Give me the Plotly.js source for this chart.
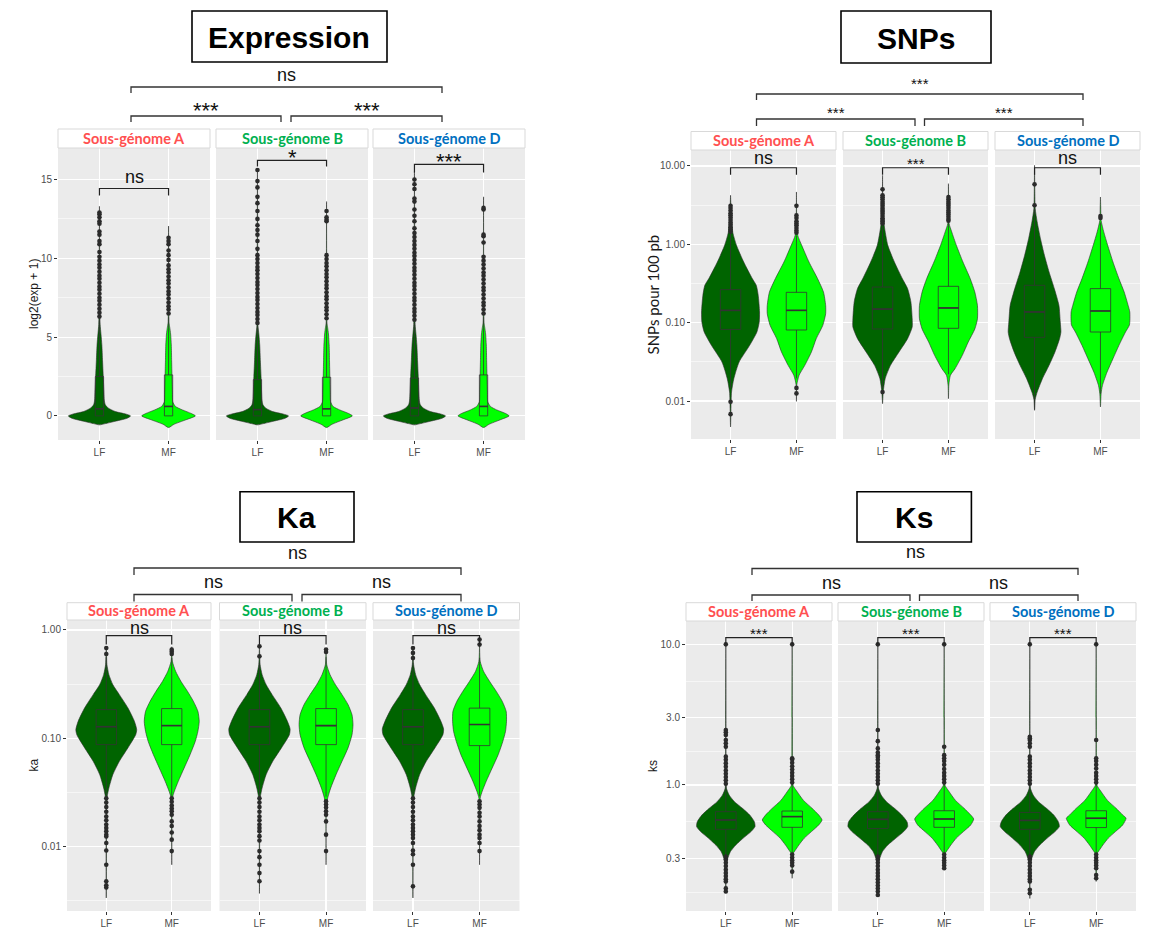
<!DOCTYPE html>
<html><head><meta charset="utf-8">
<script src="https://cdn.plot.ly/plotly-3.0.1.min.js"></script>
<style>html,body{margin:0;padding:0;background:#fff;}</style>
</head><body>
<div id="chart" style="width:1155px;height:939px"></div>
<script>
// ---------------- categories / labels ----------------
const groups = ['LF', 'MF'];
const subgenomes = ['Sous-génome A', 'Sous-génome B', 'Sous-génome D'];
const panelTitles = ['Expression', 'SNPs', 'Ka', 'Ks'];
const yTitles = ['log2(exp + 1)', 'SNPs pour 100 pb', 'ka', 'ks'];

// tick values / labels
const ex_tickvals = [0, 5, 10, 15];       const ex_ticktext = ['0', '5', '10', '15'];
const sn_tickvals = [0.01, 0.1, 1, 10];   const sn_ticktext = ['0.01', '0.10', '1.00', '10.00'];
const ka_tickvals = [0.01, 0.1, 1];       const ka_ticktext = ['0.01', '0.10', '1.00'];
const ks_tickvals = [0.3, 1, 3, 10];      const ks_ticktext = ['0.3', '1.0', '3.0', '10.0'];
const ex_minor = [2.5, 7.5, 12.5];
const sn_minor = [0.0316, 0.316, 3.16];
const ka_minor = [0.00316, 0.0316, 0.316];
const ks_minor = [0.173, 0.548, 1.73, 5.48];

// significance labels: within facet (LF vs MF) for A, B, D ; between: [A-B, B-D, A-D]
const ex_sig_within = ['ns', '*', '***'];   const ex_sig_between = ['***', '***', 'ns'];
const sn_sig_within = ['ns', '***', 'ns'];  const sn_sig_between = ['***', '***', '***'];
const ka_sig_within = ['ns', 'ns', 'ns'];   const ka_sig_between = ['ns', 'ns', 'ns'];
const ks_sig_within = ['***', '***', '***'];const ks_sig_between = ['ns', 'ns', 'ns'];

// ---------------- Expression: violin profile (value, half-width), box [q1, median, q3, lower, upper], outliers -------------
const exA_LF_y = [-0.57,-0.49,-0.36,-0.15,0,0.12,0.275,0.49,0.7,1.0,1.5,2.5,3.5,4.5,5.2,5.8,7,10,13.3];
const exA_LF_w = [0,0.085,0.21,0.40,0.45,0.38,0.23,0.13,0.085,0.07,0.065,0.055,0.045,0.035,0.022,0.01,0.004,0.003,0];
const exA_LF_box = [0, 0.45, 2.5, 0, 6.1];
const exA_LF_out = [6.3,6.55,6.8,7.05,7.3,7.5,7.75,8.0,8.2,8.45,8.7,8.9,9.15,9.4,9.6,9.85,10.1,10.4,10.9,11.1,11.5,11.7,12.2,12.35,12.6,12.8,12.9];
const exA_MF_y = [-0.74,-0.53,-0.25,0,0.15,0.38,0.6,0.9,1.5,2.5,3.5,4.5,5.2,5.6,5.9,7,12.05];
const exA_MF_w = [0,0.08,0.25,0.39,0.33,0.2,0.1,0.06,0.055,0.05,0.045,0.04,0.03,0.018,0.007,0.003,0];
const exA_MF_box = [0, 0.6, 2.6, 0, 6.3];
const exA_MF_out = [6.5,6.75,6.95,7.2,7.45,7.7,7.9,8.15,8.4,8.6,8.85,9.1,9.3,9.55,9.9,10.2,10.5,10.9,11.1,11.3];

const exB_LF_y = [-0.57,-0.49,-0.36,-0.15,0,0.12,0.275,0.49,0.7,1.0,1.5,2.5,3.5,4.5,5.2,5.7,7,12,15.6];
const exB_LF_w = [0,0.085,0.21,0.40,0.45,0.37,0.22,0.12,0.08,0.066,0.06,0.052,0.042,0.033,0.02,0.008,0.004,0.003,0];
const exB_LF_box = [0, 0.4, 2.3, 0, 5.7];
const exB_LF_out = [5.9,6.15,6.4,6.6,6.85,7.1,7.35,7.55,7.8,8.05,8.3,8.5,8.75,9.0,9.25,9.45,9.7,9.95,10.2,10.6,11.1,11.5,11.8,12.1,12.5,13.0,13.5,13.9,14.5,14.9,15.6];
const exB_MF_y = [-0.74,-0.53,-0.25,0,0.15,0.38,0.6,0.9,1.5,2.5,3.5,4.5,5.2,5.6,5.9,8,13.6];
const exB_MF_w = [0,0.08,0.24,0.375,0.32,0.19,0.095,0.058,0.053,0.048,0.043,0.038,0.028,0.016,0.006,0.003,0];
const exB_MF_box = [0, 0.45, 2.45, 0, 6.0];
const exB_MF_out = [6.2,6.45,6.7,6.9,7.15,7.4,7.6,7.85,8.1,8.3,8.55,8.8,9.0,9.25,9.5,9.7,9.95,10.2,12.35,12.45,12.6,13.0];

const exD_LF_y = [-0.57,-0.49,-0.36,-0.15,0,0.12,0.275,0.49,0.7,1.0,1.5,2.5,3.5,4.5,5.2,5.8,7,12,15.5];
const exD_LF_w = [0,0.085,0.21,0.40,0.45,0.38,0.23,0.13,0.085,0.07,0.064,0.055,0.045,0.035,0.022,0.01,0.004,0.003,0];
const exD_LF_box = [0, 0.5, 2.4, 0, 5.9];
const exD_LF_out = [6.1,6.35,6.6,6.8,7.05,7.3,7.5,7.75,8.0,8.25,8.45,8.7,8.95,9.2,9.4,9.65,9.9,10.15,10.35,10.6,10.85,11.1,11.35,11.6,11.9,12.35,12.7,13.1,13.6,13.8,14.4,14.7,15.0];
const exD_MF_y = [-0.74,-0.53,-0.25,0,0.15,0.38,0.6,0.9,1.5,2.5,3.5,4.5,5.2,5.6,5.9,8,13.9];
const exD_MF_w = [0,0.08,0.24,0.37,0.32,0.19,0.1,0.06,0.055,0.05,0.045,0.04,0.03,0.018,0.007,0.003,0];
const exD_MF_box = [0, 0.6, 2.6, 0, 6.3];
const exD_MF_out = [6.5,6.75,7.0,7.2,7.45,7.7,7.95,8.15,8.4,8.65,8.9,9.1,9.35,9.6,9.85,10.1,11.0,11.4,11.5,13.1,13.2];

// ---------------- SNPs pour 100 pb ----------------
const snA_LF_y = [0.00466,0.013,0.0193,0.0315,0.0514,0.076,0.102,0.137,0.223,0.30,0.365,0.594,0.97,1.41,2.59,4.23];
const snA_LF_w = [0,0.015,0.05,0.13,0.29,0.40,0.435,0.44,0.42,0.39,0.33,0.20,0.09,0.035,0.01,0];
const snA_LF_box = [0.082, 0.1435, 0.264, 0.0145, 1.41];
const snA_LF_out = [1.45,1.55,1.65,1.78,1.9,2.05,2.2,2.35,2.5,2.7,2.9,3.1,0.0098,0.0068];
const snA_MF_y = [0.0099,0.016,0.0213,0.0285,0.0423,0.0625,0.0925,0.13,0.166,0.246,0.365,0.594,0.97,1.3,2.0,4.66];
const snA_MF_w = [0,0.005,0.04,0.126,0.227,0.30,0.40,0.443,0.443,0.41,0.32,0.19,0.08,0.02,0.004,0];
const snA_MF_box = [0.0806, 0.1435, 0.244, 0.0195, 1.3];
const snA_MF_out = [1.41,1.5,1.62,1.75,1.85,1.97,2.17,2.34,3.1,0.0147,0.0125];

const snB_LF_y = [0.00925,0.013,0.0193,0.0285,0.0423,0.0625,0.088,0.112,0.184,0.272,0.365,0.594,0.97,1.75,3.0,7.6];
const snB_LF_w = [0,0.01,0.04,0.12,0.25,0.38,0.45,0.45,0.43,0.38,0.30,0.18,0.08,0.025,0.005,0];
const snB_LF_box = [0.083, 0.149, 0.285, 0.0145, 1.75];
const snB_LF_out = [1.85,1.95,2.05,2.15,2.3,2.45,2.6,2.75,2.9,3.1,3.3,3.5,3.75,4.0,4.23,5.03,0.013];
const snB_MF_y = [0.0107,0.016,0.0213,0.0259,0.0383,0.0566,0.083,0.112,0.166,0.246,0.365,0.594,0.97,1.44,1.84,3.0,5.94];
const snB_MF_w = [0,0.006,0.03,0.10,0.21,0.30,0.40,0.44,0.44,0.40,0.33,0.22,0.12,0.05,0.01,0.004,0];
const snB_MF_box = [0.0847, 0.154, 0.291, 0.022, 1.93];
const snB_MF_out = [2.0,2.1,2.25,2.4,2.55,2.7,2.9,3.1,3.3,3.5,3.75,4.02];

const snD_LF_y = [0.0076,0.0105,0.013,0.0193,0.0285,0.0423,0.0625,0.076,0.102,0.166,0.272,0.444,0.724,1.18,1.93,2.85,5.0,10.2];
const snD_LF_w = [0,0.01,0.04,0.12,0.22,0.31,0.38,0.40,0.39,0.37,0.30,0.22,0.15,0.09,0.04,0.01,0.004,0];
const snD_LF_box = [0.065, 0.137, 0.30, 0.0078, 2.85];
const snD_LF_out = [3.15, 5.83];
const snD_MF_y = [0.0084,0.0124,0.0158,0.0234,0.0347,0.0513,0.076,0.0937,0.137,0.166,0.246,0.365,0.594,0.97,1.44,2.02,3.0,4.02];
const snD_MF_w = [0,0.01,0.03,0.10,0.19,0.28,0.38,0.44,0.445,0.42,0.36,0.28,0.19,0.11,0.05,0.01,0.004,0];
const snD_MF_box = [0.076, 0.141, 0.272, 0.0123, 1.9];
const snD_MF_out = [2.17, 2.3];

// ---------------- Ka ----------------
const kaA_LF_y = [0.00336,0.01,0.025,0.0292,0.0348,0.0462,0.0614,0.0815,0.108,0.120,0.1435,0.191,0.253,0.313,0.387,0.479,0.6,0.706];
const kaA_LF_w = [0,0.003,0.006,0.015,0.04,0.10,0.20,0.33,0.45,0.465,0.43,0.33,0.20,0.10,0.04,0.01,0.004,0];
const kaA_LF_box = [0.0874, 0.128, 0.184, 0.0296, 0.56];
const kaA_LF_out = [0.60,0.682,0.028,0.0255,0.0232,0.021,0.019,0.0175,0.016,0.0149,0.0139,0.0129,0.0124,0.0108,0.0092,0.0068,0.0048,0.0044,0.0042];
const kaA_MF_y = [0.0068,0.02,0.0281,0.0324,0.0401,0.0532,0.0706,0.0938,0.116,0.1435,0.1775,0.22,0.272,0.336,0.415,0.514,0.70];
const kaA_MF_w = [0,0.004,0.01,0.04,0.10,0.19,0.28,0.36,0.40,0.42,0.40,0.33,0.24,0.14,0.06,0.01,0];
const kaA_MF_box = [0.0874, 0.131, 0.188, 0.029, 0.55];
const kaA_MF_out = [0.60,0.63,0.658,0.028,0.026,0.024,0.0225,0.0212,0.0197,0.0171,0.0155,0.0135,0.0116,0.0091];

const kaB_LF_y = [0.0037,0.01,0.025,0.0292,0.0348,0.0462,0.0614,0.0815,0.108,0.122,0.1435,0.191,0.253,0.313,0.387,0.479,0.6,0.706];
const kaB_LF_w = [0,0.003,0.006,0.015,0.04,0.10,0.20,0.33,0.45,0.46,0.42,0.32,0.19,0.10,0.04,0.01,0.004,0];
const kaB_LF_box = [0.0874, 0.128, 0.184, 0.0296, 0.5];
const kaB_LF_out = [0.571,0.706,0.028,0.0255,0.0232,0.021,0.019,0.0175,0.016,0.0149,0.0139,0.0125,0.0114,0.0091,0.008,0.0068,0.0057,0.0048];
const kaB_MF_y = [0.0068,0.0228,0.0281,0.0348,0.0462,0.0614,0.0815,0.108,0.134,0.165,0.205,0.253,0.313,0.387,0.479,0.68];
const kaB_MF_w = [0,0.005,0.025,0.07,0.15,0.24,0.33,0.39,0.405,0.39,0.33,0.24,0.14,0.06,0.01,0];
const kaB_MF_box = [0.0874, 0.131, 0.188, 0.029, 0.56];
const kaB_MF_out = [0.627,0.66,0.0262,0.0245,0.023,0.0212,0.0197,0.0171,0.0129,0.0091];

const kaD_LF_y = [0.00336,0.01,0.025,0.0292,0.0348,0.0462,0.0614,0.0815,0.108,0.122,0.1435,0.191,0.253,0.313,0.387,0.479,0.6,0.706];
const kaD_LF_w = [0,0.003,0.006,0.015,0.04,0.10,0.20,0.33,0.45,0.46,0.42,0.32,0.19,0.10,0.04,0.01,0.004,0];
const kaD_LF_box = [0.0874, 0.128, 0.184, 0.0296, 0.5];
const kaD_LF_out = [0.55,0.614,0.68,0.028,0.0255,0.0232,0.021,0.019,0.0175,0.016,0.0149,0.0139,0.0129,0.012,0.0108,0.0092,0.0085,0.0068,0.0043];
const kaD_MF_y = [0.0068,0.02,0.0281,0.0324,0.0401,0.0532,0.0706,0.0938,0.116,0.1435,0.1775,0.22,0.272,0.336,0.415,0.514,0.83];
const kaD_MF_w = [0,0.004,0.01,0.04,0.10,0.19,0.28,0.35,0.39,0.405,0.40,0.34,0.25,0.15,0.06,0.01,0];
const kaD_MF_box = [0.0856, 0.134, 0.19, 0.029, 0.55];
const kaD_MF_out = [0.733,0.815,0.0262,0.0245,0.0228,0.0205,0.019,0.0171,0.0155,0.0142,0.0129,0.012,0.0108,0.0091];

// ---------------- Ks ----------------
const ksA_LF_y = [0.17,0.206,0.27,0.301,0.336,0.374,0.418,0.466,0.506,0.548,0.612,0.683,0.761,0.849,0.947,1.2,3.0,10.0];
const ksA_LF_w = [0,0.004,0.01,0.03,0.07,0.15,0.26,0.38,0.44,0.43,0.36,0.25,0.13,0.05,0.01,0.004,0.003,0];
const ksA_LF_box = [0.484, 0.564, 0.646, 0.314, 0.99];
const ksA_LF_out = [1.02,1.08,1.14,1.2,1.27,1.35,1.43,1.51,1.59,1.87,1.98,2.09,2.27,2.37,2.46,10.0,0.31,0.295,0.28,0.265,0.25,0.237,0.225,0.214,0.206,0.184,0.175];
const ksA_MF_y = [0.217,0.263,0.327,0.34,0.374,0.418,0.466,0.52,0.564,0.612,0.683,0.777,0.903,1.0,1.5,3.0,10.0];
const ksA_MF_w = [0,0.004,0.015,0.04,0.10,0.18,0.29,0.40,0.45,0.40,0.30,0.17,0.07,0.01,0.004,0.003,0];
const ksA_MF_box = [0.5, 0.596, 0.653, 0.327, 1.0];
const ksA_MF_out = [1.04,1.1,1.16,1.22,1.29,1.36,1.44,1.52,1.55,10.0,0.32,0.305,0.292,0.28,0.268,0.242];

const ksB_LF_y = [0.165,0.206,0.27,0.301,0.336,0.374,0.418,0.466,0.506,0.548,0.612,0.683,0.761,0.849,0.947,1.2,3.0,10.0];
const ksB_LF_w = [0,0.004,0.01,0.03,0.07,0.15,0.27,0.39,0.45,0.44,0.36,0.25,0.13,0.05,0.01,0.004,0.003,0];
const ksB_LF_box = [0.49, 0.57, 0.646, 0.314, 0.99];
const ksB_LF_out = [1.02,1.08,1.14,1.2,1.27,1.35,1.43,1.51,1.58,1.63,1.7,1.82,2.05,2.46,10.0,0.31,0.295,0.28,0.265,0.25,0.237,0.225,0.214,0.203,0.193,0.184,0.175,0.165];
const ksB_MF_y = [0.25,0.263,0.327,0.34,0.374,0.418,0.466,0.52,0.573,0.612,0.683,0.777,0.903,1.0,1.3,3.0,10.0];
const ksB_MF_w = [0,0.004,0.015,0.04,0.10,0.18,0.29,0.40,0.445,0.40,0.30,0.17,0.07,0.01,0.004,0.003,0];
const ksB_MF_box = [0.5, 0.573, 0.656, 0.327, 1.0];
const ksB_MF_out = [1.04,1.1,1.16,1.22,1.3,1.39,1.48,1.55,1.63,1.87,10.0,0.32,0.305,0.292,0.28,0.268,0.256];

const ksD_LF_y = [0.156,0.206,0.27,0.301,0.336,0.374,0.418,0.466,0.506,0.548,0.612,0.683,0.761,0.849,0.947,1.2,3.0,10.0];
const ksD_LF_w = [0,0.004,0.01,0.03,0.07,0.15,0.26,0.38,0.445,0.43,0.36,0.25,0.13,0.05,0.01,0.004,0.003,0];
const ksD_LF_box = [0.484, 0.56, 0.638, 0.314, 0.99];
const ksD_LF_out = [1.02,1.08,1.14,1.2,1.27,1.35,1.43,1.51,1.59,1.87,1.98,2.09,2.15,2.2,10.0,0.31,0.295,0.28,0.265,0.25,0.237,0.225,0.214,0.206,0.18,0.17];
const ksD_MF_y = [0.206,0.229,0.263,0.327,0.34,0.374,0.418,0.466,0.52,0.58,0.612,0.683,0.777,0.903,1.0,1.3,3.0,10.0];
const ksD_MF_w = [0,0.003,0.006,0.015,0.04,0.10,0.18,0.29,0.40,0.45,0.40,0.30,0.17,0.07,0.01,0.004,0.003,0];
const ksD_MF_box = [0.498, 0.58, 0.656, 0.327, 1.0];
const ksD_MF_out = [1.04,1.1,1.16,1.22,1.31,1.39,1.48,1.55,2.09,10.0,0.32,0.305,0.292,0.28,0.268,0.256,0.229,0.217];

// ---------------- assembly ----------------
const DATA = {
  ex: [[[exA_LF_y,exA_LF_w,exA_LF_box,exA_LF_out],[exA_MF_y,exA_MF_w,exA_MF_box,exA_MF_out]],
       [[exB_LF_y,exB_LF_w,exB_LF_box,exB_LF_out],[exB_MF_y,exB_MF_w,exB_MF_box,exB_MF_out]],
       [[exD_LF_y,exD_LF_w,exD_LF_box,exD_LF_out],[exD_MF_y,exD_MF_w,exD_MF_box,exD_MF_out]]],
  sn: [[[snA_LF_y,snA_LF_w,snA_LF_box,snA_LF_out],[snA_MF_y,snA_MF_w,snA_MF_box,snA_MF_out]],
       [[snB_LF_y,snB_LF_w,snB_LF_box,snB_LF_out],[snB_MF_y,snB_MF_w,snB_MF_box,snB_MF_out]],
       [[snD_LF_y,snD_LF_w,snD_LF_box,snD_LF_out],[snD_MF_y,snD_MF_w,snD_MF_box,snD_MF_out]]],
  ka: [[[kaA_LF_y,kaA_LF_w,kaA_LF_box,kaA_LF_out],[kaA_MF_y,kaA_MF_w,kaA_MF_box,kaA_MF_out]],
       [[kaB_LF_y,kaB_LF_w,kaB_LF_box,kaB_LF_out],[kaB_MF_y,kaB_MF_w,kaB_MF_box,kaB_MF_out]],
       [[kaD_LF_y,kaD_LF_w,kaD_LF_box,kaD_LF_out],[kaD_MF_y,kaD_MF_w,kaD_MF_box,kaD_MF_out]]],
  ks: [[[ksA_LF_y,ksA_LF_w,ksA_LF_box,ksA_LF_out],[ksA_MF_y,ksA_MF_w,ksA_MF_box,ksA_MF_out]],
       [[ksB_LF_y,ksB_LF_w,ksB_LF_box,ksB_LF_out],[ksB_MF_y,ksB_MF_w,ksB_MF_box,ksB_MF_out]],
       [[ksD_LF_y,ksD_LF_w,ksD_LF_box,ksD_LF_out],[ksD_MF_y,ksD_MF_w,ksD_MF_box,ksD_MF_out]]]
};

// ---------------- layout geometry (pixels) ----------------
const W = 1155, H = 939;
const X = p => p / W;
const Y = p => 1 - p / H;
const FONT = 'Liberation Sans, Arial, sans-serif';
const STRIP_FONT = 'Lato, Carlito, sans-serif';
const groupColors = ['#006400', '#00FF00'];
const stripColors = ['#FF5050', '#00B050', '#0070C0'];

const PANELS = [
  { key:'ex', log:false, range:[-1.53, 17.0], tv:ex_tickvals, tt:ex_ticktext, minor:ex_minor,
    fx:[[58,210],[216,368],[373,525]], fy:[148,440], strip:[129,148], boxW:0.12,
    title:[192,387,11,62], ytitle:{x:34, y:294, family:FONT, size:12},
    within:{top:[14.43,16.21,15.96], tip:[13.98,15.83,15.45], lab:ex_sig_within, nsShift:0}, star:22,
    between:{lab:ex_sig_between, rows:[[131,281,116,122,106],[291,442,116,122,106],[131,442,87,93,76]]} },
  { key:'sn', log:true, range:[-2.485, 1.204], tv:sn_tickvals, tt:sn_ticktext, minor:sn_minor,
    fx:[[691,836],[843,988],[995,1140]], fy:[150,439], strip:[131.5,150], boxW:0.31,
    title:[841,991,11,63], ytitle:{x:652, y:294.5, family:STRIP_FONT, size:15},
    within:{top:[9.5,9.5,9.5], tip:[7.74,7.74,7.74], lab:sn_sig_within, nsShift:-1}, star:15,
    between:{lab:sn_sig_between, rows:[[756.5,915,119,126,110],[924.5,1083,119,126,110],[756.5,1083,94,100,80]]} },
  { key:'ka', log:true, range:[-2.594, 0.092], tv:ka_tickvals, tt:ka_ticktext, minor:ka_minor,
    fx:[[67,211],[219.5,366],[373,519.5]], fy:[620,911], strip:[602.7,620], boxW:0.31,
    title:[240,354,491.7,542], ytitle:{x:33, y:765.5, family:FONT, size:12},
    within:{top:[0.887,0.887,0.887], tip:[0.733,0.733,0.733], lab:ka_sig_within, nsShift:-3}, star:22,
    between:{lab:ka_sig_between, rows:[[134,292,594.5,601.5,583.5],[302,461,594.5,601.5,583.5],[134,461,568,575,554]]} },
  { key:'ks', log:true, range:[-0.896, 1.166], tv:ks_tickvals, tt:ks_ticktext, minor:ks_minor,
    fx:[[686,832],[838,984],[990,1136]], fy:[621,911], strip:[602.7,621], boxW:0.31,
    title:[857,971.4,491.7,542], ytitle:{x:653, y:766, family:FONT, size:12},
    within:{top:[11.15,11.15,11.15], tip:[10.0,10.0,10.0], lab:ks_sig_within, nsShift:0}, star:15,
    between:{lab:ks_sig_between, rows:[[752,910,595,601,584],[919.5,1078,595,601,584],[752,1078,568.5,575,553.5]]} }
];

const traces = [], shapes = [], annotations = [];
const layout = {
  width: W, height: H, margin:{l:0, r:0, t:0, b:0},
  paper_bgcolor:'#FFFFFF', plot_bgcolor:'#EBEBEB', showlegend:false, hovermode:false,
  font:{family:FONT, color:'#000'}
};

function labelShift(txt, star, nsShift){ // vertical nudge: asterisk glyphs sit high in their text box
  if (txt.indexOf('*') < 0) return nsShift;
  return star >= 20 ? -11 : -5;
}

PANELS.forEach((P, pi) => {
  // title box
  shapes.push({type:'rect', xref:'paper', yref:'paper', x0:X(P.title[0]), x1:X(P.title[1]), y0:Y(P.title[3]), y1:Y(P.title[2]),
               line:{color:'#000', width:1.6}, fillcolor:'#FFFFFF', layer:'above'});
  annotations.push({xref:'paper', yref:'paper', x:X((P.title[0]+P.title[1])/2), y:Y((P.title[2]+P.title[3])/2 + 1),
                    text:'<b>' + panelTitles[pi] + '</b>', showarrow:false, xanchor:'center', yanchor:'middle',
                    font:{family:FONT, size:30, color:'#000'}});
  // y axis title
  annotations.push({xref:'paper', yref:'paper', x:X(P.ytitle.x), y:Y(P.ytitle.y), text:yTitles[pi], textangle:-90,
                    showarrow:false, xanchor:'center', yanchor:'middle', font:{family:P.ytitle.family, size:P.ytitle.size, color:'#1a1a1a'}});
  // between-facet brackets
  P.between.rows.forEach((r, ri) => {
    const [x0, x1, yl, yt, ylab] = r;
    shapes.push({type:'path', xref:'paper', yref:'paper',
                 path:`M ${X(x0)},${Y(yt)} L ${X(x0)},${Y(yl)} L ${X(x1)},${Y(yl)} L ${X(x1)},${Y(yt)}`,
                 line:{color:'#333333', width:1.3}});
    const txt = P.between.lab[ri];
    const isStar = txt.indexOf('*') >= 0;
    const size = isStar ? P.star : 18;
    const dy = isStar ? (P.star >= 20 ? 4.5 : 3) : -1.5;
    annotations.push({xref:'paper', yref:'paper', x:X((x0+x1)/2), y:Y(ylab + dy), text:txt, showarrow:false,
                      xanchor:'center', yanchor:'middle', font:{family:FONT, size:size, color:'#111'}});
  });

  P.fx.forEach((fx, fi) => {
    const k = pi*3 + fi + 1;
    const sfx = k === 1 ? '' : String(k);
    const xa = 'x' + sfx, ya = 'y' + sfx;
    const ov = String(k + 12);          // overlay y axis so boxes / points sit above the violin fills
    const yo = 'y' + ov;
    const first = fi === 0;
    layout['xaxis' + sfx] = {
      domain:[X(fx[0]), X(fx[1])], anchor:ya, type:'linear', range:[0.4, 2.6],
      tickmode:'array', tickvals:[1, 2], ticktext:groups, ticks:'outside', ticklen:3, tickwidth:1, tickcolor:'#333333',
      tickfont:{family:FONT, size:10, color:'#4D4D4D'}, showgrid:true, gridcolor:'#FFFFFF', gridwidth:1.1,
      zeroline:false, showline:false, fixedrange:true
    };
    const yBase = {type:P.log ? 'log' : 'linear', range:P.range, fixedrange:true, zeroline:false, showline:false};
    layout['yaxis' + sfx] = Object.assign({}, yBase, {
      domain:[Y(P.fy[1]), Y(P.fy[0])], anchor:xa,
      tickmode:'array', tickvals:P.tv, ticktext:P.tt, showticklabels:first, ticks:first ? 'outside' : '',
      ticklen:3, tickwidth:1, tickcolor:'#333333', tickfont:{family:FONT, size:10, color:'#4D4D4D'},
      showgrid:true, gridcolor:'#FFFFFF', gridwidth:1.1,
      minor:{tickmode:'array', tickvals:P.minor, showgrid:true, gridcolor:'#FFFFFF', gridwidth:0.55, ticks:''}
    });
    layout['yaxis' + ov] = Object.assign({}, yBase, {
      overlaying:ya, anchor:xa, showgrid:false, showticklabels:false, ticks:''
    });
    // strip
    shapes.push({type:'rect', xref:'paper', yref:'paper', x0:X(fx[0]), x1:X(fx[1]), y0:Y(P.strip[1]), y1:Y(P.strip[0]),
                 line:{color:'#D9D9D9', width:1}, fillcolor:'#FFFFFF'});
    annotations.push({xref:'paper', yref:'paper', x:X((fx[0]+fx[1])/2), y:Y((P.strip[0]+P.strip[1])/2 - 0.5), text:'<b>' + subgenomes[fi] + '</b>',
                      showarrow:false, xanchor:'center', yanchor:'middle', borderpad:0,
                      font:{family:STRIP_FONT, size:14.5, color:stripColors[fi]}});

    groups.forEach((g, gi) => {
      const [vy, vw, bx, out] = DATA[P.key][fi][gi];
      const pos = gi + 1;
      // violin outline (mirrored density profile)
      const xs = vy.map((v, i) => pos + vw[i]).concat(vy.map((v, i) => pos - vw[i]).reverse());
      const ys = vy.concat(vy.slice().reverse());
      traces.push({type:'scatter', mode:'lines', x:xs, y:ys, xaxis:xa, yaxis:ya, fill:'toself', fillcolor:groupColors[gi],
                   line:{color:'#2b2b2b', width:0.6, shape:'spline', smoothing:0.6}, hoverinfo:'skip', name:g});
      // box (precomputed quartiles / whisker ends)
      traces.push({type:'box', x:[pos], q1:[bx[0]], median:[bx[1]], q3:[bx[2]], lowerfence:[bx[3]], upperfence:[bx[4]],
                   xaxis:xa, yaxis:yo, width:P.boxW, whiskerwidth:0, boxpoints:false, fillcolor:'rgba(0,0,0,0)',
                   line:{color:'#333333', width:0.8}, hoverinfo:'skip', name:g});
      // median (thicker, as in ggplot)
      traces.push({type:'scatter', mode:'lines', x:[pos - P.boxW/2, pos + P.boxW/2], y:[bx[1], bx[1]], xaxis:xa, yaxis:yo,
                   line:{color:'#333333', width:1.6}, hoverinfo:'skip'});
      // outliers
      traces.push({type:'scatter', mode:'markers', x:out.map(() => pos), y:out, xaxis:xa, yaxis:yo,
                   marker:{color:'#2b2b2b', size:4.6}, hoverinfo:'skip', cliponaxis:false});
    });

    // within-facet bracket LF vs MF
    const top = P.within.top[fi], tip = P.within.tip[fi];
    traces.push({type:'scatter', mode:'lines', x:[1, 1, 2, 2], y:[tip, top, top, tip], xaxis:xa, yaxis:yo,
                 line:{color:'#222222', width:1.2}, hoverinfo:'skip'});
    const txt = P.within.lab[fi];
    const isStar = txt.indexOf('*') >= 0;
    annotations.push({xref:xa, yref:ya, x:1.5, y:P.log ? Math.log10(top) : top, text:txt, showarrow:false,
                      xanchor:'center', yanchor:'bottom', yshift:labelShift(txt, P.star, P.within.nsShift), borderpad:0,
                      font:{family:FONT, size:isStar ? P.star : 18, color:'#111'}});
  });
});

layout.shapes = shapes;
layout.annotations = annotations;
Plotly.newPlot('chart', traces, layout, {displayModeBar:false, staticPlot:true});
</script>
</body></html>
